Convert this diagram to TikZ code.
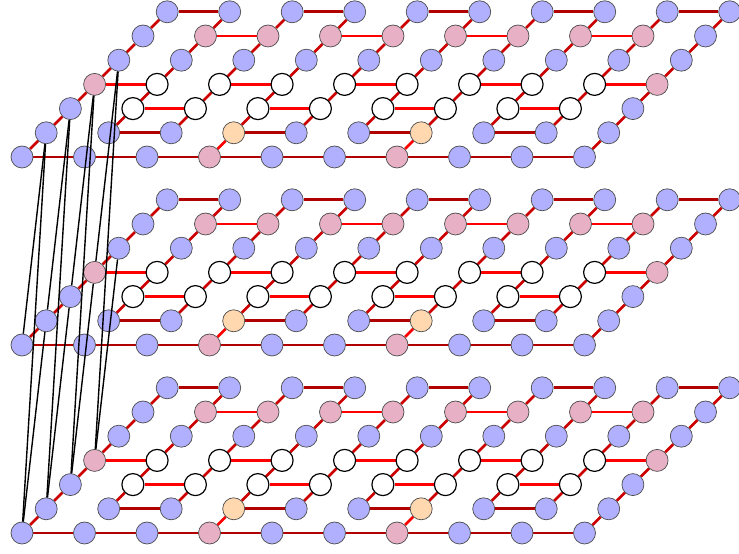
\documentclass[tikz,border=0pt]{standalone}
\usetikzlibrary{backgrounds}

\definecolor{qblue}{HTML}{B0B0FF}
\definecolor{qpink}{HTML}{E8B0C4}
\definecolor{qorange}{HTML}{FFD8B0}
\definecolor{darkred}{HTML}{B00000}
\definecolor{midred}{HTML}{CC0000}
\tikzstyle{qb} = [circle, minimum size=22pt, inner sep=0pt, draw=black!70, line width=0.7pt]
\tikzstyle{blu} = [qb, fill=qblue]
\tikzstyle{pnk} = [qb, fill=qpink]
\tikzstyle{org} = [qb, fill=qorange]
\tikzstyle{wht} = [qb, fill=white, draw=black, line width=1.2pt]
\tikzstyle{hot} = [red, line width=2.8pt]
\tikzstyle{cold} = [darkred, line width=2.8pt]
\tikzstyle{rung} = [midred, line width=2.8pt]
\tikzstyle{link} = [black, line width=1.4pt]

% style of qubit i in row j
\newcommand\pickstyle[2]{%
	\def\qs{blu}%
	\ifnum#2=0 \ifnum#1=3 \def\qs{pnk}\fi\ifnum#1=6 \def\qs{pnk}\fi\fi
	\ifnum#2=1 \ifnum#1=3 \def\qs{org}\fi\ifnum#1=6 \def\qs{org}\fi\fi
	\ifnum#2=2 \def\qs{wht}\ifnum#1=0 \def\qs{blu}\fi\ifnum#1=9 \def\qs{blu}\fi\fi
	\ifnum#2=3 \def\qs{wht}\ifnum#1=0 \def\qs{pnk}\fi\ifnum#1=9 \def\qs{pnk}\fi\fi
	\ifnum#2=5 \def\qs{pnk}\ifnum#1=0 \def\qs{blu}\fi\ifnum#1=9 \def\qs{blu}\fi\fi
}

\begin{document}
\begin{tikzpicture}[x=1pt, y=1pt]
	\useasboundingbox (0,0) rectangle (739,554);
	% qubits of the three layers
	\foreach \l/\b in {1/397, 2/209, 3/21} {
		\foreach \i in {0,...,9} {
			\foreach \j in {0,...,6} {
				\pickstyle{\i}{\j}
				\node[\qs] (n\l-\i-\j) at ({22+62.5*\i+24.2*\j}, {\b+24.2*\j}) {};
			}
		}
	}
	% couplers inside a layer
	\begin{pgfonlayer}{background}
	\foreach \l in {1,2,3} {
		\foreach \i in {0,...,8} {
			\pgfmathtruncatemacro\k{\i+1}
			\draw[cold] (n\l-\i-0) -- (n\l-\k-0);
		}
		\foreach \i in {1,3,5,7} {
			\pgfmathtruncatemacro\k{\i+1}
			\draw[cold] (n\l-\i-1) -- (n\l-\k-1);
			\draw[hot] (n\l-\i-2) -- (n\l-\k-2);
			\draw[hot] (n\l-\i-5) -- (n\l-\k-5);
		}
		\foreach \i in {0,2,4,6,8} {
			\pgfmathtruncatemacro\k{\i+1}
			\draw[hot] (n\l-\i-3) -- (n\l-\k-3);
			\draw[cold] (n\l-\i-6) -- (n\l-\k-6);
		}
		\foreach \i in {0,...,9} {
			\foreach \j in {1,...,5} {
				\pgfmathtruncatemacro\k{\j+1}
				\draw[rung] (n\l-\i-\j) -- (n\l-\i-\k);
			}
		}
		\foreach \i in {0,9}
			\draw[rung] (n\l-\i-0) -- (n\l-\i-1);
		\foreach \i in {3,6}
			\draw[hot] (n\l-\i-0) -- (n\l-\i-1);
	}
	\end{pgfonlayer}
	% links between layers
	\foreach \u/\d in {1/2, 1/3, 2/3} {
		\foreach \j in {1,...,4} {
			\pgfmathtruncatemacro\k{\j-1}
			\draw[link] (n\u-0-\j) -- (n\d-0-\k);
		}
	}
\end{tikzpicture}
\end{document}
